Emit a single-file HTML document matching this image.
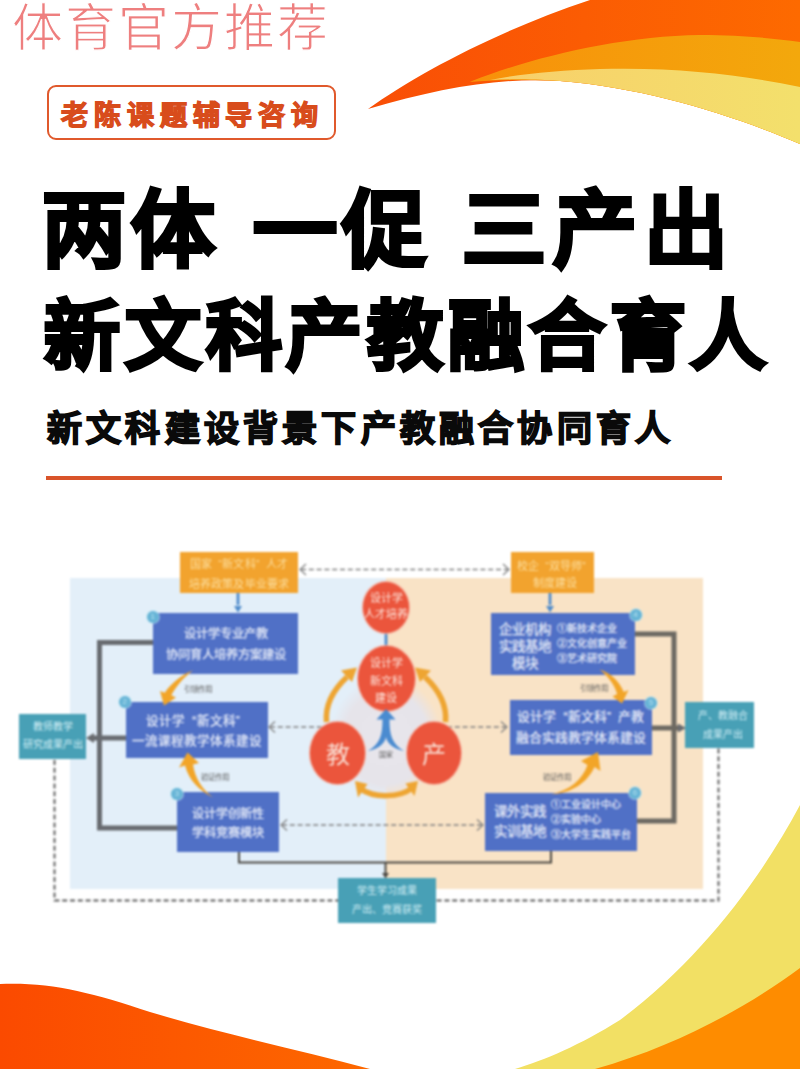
<!DOCTYPE html>
<html lang="zh-CN">
<head>
<meta charset="utf-8">
<style>
html,body{margin:0;padding:0;}
body{width:800px;height:1069px;position:relative;overflow:hidden;background:#fff;font-family:"Liberation Sans",sans-serif;}
.abs{position:absolute;}
.nw{white-space:nowrap;line-height:1;}
#wm{left:12px;top:3px;font-size:51px;color:#ee7f7f;letter-spacing:2px;font-weight:300;-webkit-text-stroke:1.2px #fff;}
#tag{left:47px;top:85px;width:285px;height:51px;border:2px solid #e0592c;border-radius:9px;}
#tagt{left:61px;top:102.5px;font-size:27px;font-weight:700;color:#d84c1c;letter-spacing:5.9px;-webkit-text-stroke:1.3px #d84c1c;}
.t1{font-size:84px;letter-spacing:5px;font-weight:900;color:#000;-webkit-text-stroke:3.5px #000;}
.t2{font-size:76px;font-weight:900;color:#000;-webkit-text-stroke:3.5px #000;letter-spacing:4.8px;}
#sub{left:47px;top:411px;font-size:35px;font-weight:900;color:#0a0a0a;letter-spacing:4.2px;-webkit-text-stroke:1.6px #0a0a0a;}
#rule{left:46px;top:476px;width:676px;height:4px;background:#d9542a;}
#dg{left:0;top:0;width:800px;height:1069px;filter:blur(0.85px);}
.box{position:absolute;display:flex;flex-direction:column;align-items:center;justify-content:center;text-align:center;white-space:nowrap;}
.bl{background:#5070c6;color:#e6ebf8;-webkit-text-stroke:0.25px #e6ebf8;}
.q1{margin-left:0.55em;}.q2{margin-right:0.55em;}
.tl{background:#48a0b6;color:#d2eef5;}
.or{background:#f2a32e;color:#fcdfa0;}
.num{position:absolute;width:12px;height:12px;border-radius:50%;background:#66b4d6;color:#b8e2f0;font-size:8px;line-height:12px;text-align:center;box-shadow:0 0 0 1px rgba(200,235,245,0.6);}
.lbl{position:absolute;font-size:7.5px;color:#5a5a5a;white-space:nowrap;line-height:1;}
.circ{position:absolute;border-radius:50%;background:#eb553c;color:#fde8e0;display:flex;flex-direction:column;align-items:center;justify-content:center;text-align:center;white-space:nowrap;box-shadow:0 0 0 1.2px rgba(246,178,160,0.8);}
</style>
</head>
<body>
<!-- background swooshes -->
<svg class="abs" style="left:0;top:0" width="800" height="1069" viewBox="0 0 800 1069">
  <defs>
    <linearGradient id="gr1" x1="0" x2="1" y1="0" y2="0">
      <stop offset="0" stop-color="#f94e06"/><stop offset="1" stop-color="#fd6a00"/>
    </linearGradient>
    <linearGradient id="go1" x1="0" x2="1" y1="0" y2="0">
      <stop offset="0" stop-color="#f8900a"/><stop offset="1" stop-color="#f3a80c"/>
    </linearGradient>
    <linearGradient id="gy1" x1="0" x2="1" y1="0" y2="0">
      <stop offset="0" stop-color="#f8cf6a"/><stop offset="1" stop-color="#f3e06c"/>
    </linearGradient>
    <linearGradient id="gr2" x1="0" x2="1" y1="0" y2="0">
      <stop offset="0" stop-color="#fb4a00"/><stop offset="1" stop-color="#fd6800"/>
    </linearGradient>
  </defs>
  <path d="M368,109 C420,72 500,30 590,0 L800,0 L800,144 C740,118 650,88 560,81 C500,77 440,88 368,109 Z" fill="url(#gr1)"/>
  <path d="M472,81 C530,58 620,36 700,35 C740,35 770,38 800,42 L800,144 C740,118 650,88 560,81 C520,79 495,80 470,82 Z" fill="url(#go1)"/>
  <path d="M490,80 C520,74 560,70 600,69 C680,67 740,75 800,87 L800,144 C740,118 650,88 560,81 C530,79 510,79 490,80 Z" fill="url(#gy1)"/>
  <path d="M0,984 C50,982 90,992 150,1012 C230,1036 300,1050 370,1069 L0,1069 Z" fill="url(#gr2)"/>
  <path d="M800,805 C760,880 700,960 620,1020 C580,1045 545,1060 515,1069 L800,1069 Z" fill="#f2e064"/>
  <path d="M800,968 C750,1005 680,1045 595,1069 L800,1069 Z" fill="#fe8c00"/>
</svg>

<div id="wm" class="abs nw">体育官方推荐</div>
<div id="tag" class="abs"></div>
<div id="tagt" class="abs nw">老陈课题辅导咨询</div>

<div class="abs nw t1" style="left:42px;top:189px;">两体</div>
<div class="abs nw t1" style="left:253px;top:189px;">一促</div>
<div class="abs nw t1" style="left:462px;top:189px;letter-spacing:7px">三产出</div>
<div class="abs nw t2" style="left:44px;top:299px;">新文科产教融合育人</div>
<div id="sub" class="abs nw">新文科建设背景下产教融合协同育人</div>
<div id="rule" class="abs"></div>

<div id="dg" class="abs">
  <div class="abs" style="left:70px;top:578px;width:316px;height:311px;background:#e3eff9;"></div>
  <div class="abs" style="left:386px;top:578px;width:317px;height:311px;background:#f9e3c6;"></div>
  <svg class="abs" style="left:0;top:0" width="800" height="1069" viewBox="0 0 800 1069">
    <defs><radialGradient id="dsk"><stop offset="0" stop-color="#e8e6ec"/><stop offset="0.75" stop-color="#e6e4ea"/><stop offset="1" stop-color="#e6e4ea" stop-opacity="0"/></radialGradient></defs><ellipse cx="386" cy="738" rx="56" ry="62" fill="url(#dsk)"/>
    <g fill="none" stroke="#808080" stroke-width="1.5" stroke-dasharray="5 2.8">
      <path d="M301,569.5 H508"/>
      <path d="M270,727 H326"/>
      <path d="M447,727 H506"/>
      <path d="M282,825 H482"/>
    </g>
    <g fill="none" stroke="#5c5c5c" stroke-width="1.9" stroke-dasharray="5 2.8">
      <path d="M54.5,760 V900.5 H718.5 V748"/>
    </g>
    <g fill="none" stroke="#808080" stroke-width="1.2">
      <path d="M306,564 L300,569.5 L306,575"/>
      <path d="M503,564 L509,569.5 L503,575"/>
      <path d="M275,721.5 L269,727 L275,732.5"/>
      <path d="M501,721.5 L507,727 L501,732.5"/>
      <path d="M287,819.5 L281,825 L287,830.5"/>
      <path d="M477,819.5 L483,825 L477,830.5"/>
    </g>
    <g fill="none" stroke="#686b70" stroke-width="5">
      <path d="M155,642.5 H99.5 V828 H179"/>
      <path d="M127,738 H93"/>
    </g>
    <g fill="none" stroke="#6c6962" stroke-width="5">
      <path d="M633,634 H674 V821 H635"/>
      <path d="M650,728 H679"/>
    </g>
    <g fill="#696b6f">
      <path d="M86,738 L94,733 L94,743 Z"/>
      <path d="M686,728 L678,723.5 L678,732.5 Z"/>
    </g>
    <g fill="none" stroke="#4b4843" stroke-width="2">
      <path d="M239,851 V862.5 H551 V850"/>
      <path d="M385.5,862.5 V874"/>
    </g>
    <path d="M385.5,878.5 L382,873 L389,873 Z" fill="#4b4843"/>
    <g fill="none" stroke="#4f8bcb" stroke-width="2.8">
      <path d="M238,593 V605"/>
      <path d="M550,593 V605"/>
      <path d="M386,631 V648"/>
    </g>
    <g fill="#4f8bcb">
      <path d="M238,612.5 L234,606 L242,606 Z"/>
      <path d="M550,612.5 L546,606 L554,606 Z"/>
    </g>
  </svg>
  <div class="box or" style="left:180px;top:552px;width:118px;height:41px;font-size:11px;line-height:19.5px;letter-spacing:0.2px;"><div style="transform:translateY(1.5px)">国家<span class="q1">“</span>新文科<span class="q2">”</span>人才<br>培养政策及毕业要求</div></div>
  <div class="box or" style="left:511px;top:552px;width:83px;height:41px;font-size:11px;line-height:17px;"><div style="transform:translate(2px,1.5px)">校企<span class="q1">“</span>双导师<span class="q2">”</span><br>制度建设</div></div>
  <div class="box bl" style="left:153px;top:613px;width:145px;height:61px;font-size:12.3px;line-height:21px;"><div style="transform:translateY(0.5px)">设计学专业产教<br>协同育人培养方案建设</div></div>
  <div class="box bl" style="left:125.5px;top:702px;width:142px;height:56px;font-size:12.6px;line-height:20.5px;"><div style="transform:translateY(1px)">设计学<span class="q1">“</span>新文科<span class="q2">”</span><br>一流课程教学体系建设</div></div>
  <div class="box bl" style="left:177px;top:792px;width:102px;height:60px;font-size:12.2px;line-height:19px;"><div style="transform:translateY(1.5px)">设计学创新性<br>学科竞赛模块</div></div>
  <div class="box bl" style="left:491px;top:612.5px;width:144px;height:62px;flex-direction:row;justify-content:flex-start;">
    <div style="width:58px;font-size:13.5px;line-height:17px;text-align:center;margin-left:5px;padding-top:5px;">企业机构<br>实践基地<br>模块</div>
    <div style="font-size:10px;line-height:15px;text-align:left;margin-left:3px;">①新技术企业<br>②文化创意产业<br>③艺术研究院</div>
  </div>
  <div class="box bl" style="left:509.5px;top:699.5px;width:142.5px;height:55.5px;font-size:12.8px;line-height:21.5px;"><div>设计学<span class="q1">“</span>新文科<span class="q2">”</span>产教<br>融合实践教学体系建设</div></div>
  <div class="box bl" style="left:485px;top:792.5px;width:152px;height:58px;flex-direction:row;justify-content:flex-start;">
    <div style="width:58px;font-size:13.5px;line-height:20px;text-align:center;margin-left:6px;">课外实践<br>实训基地</div>
    <div style="font-size:10px;line-height:15px;text-align:left;margin-left:2px;margin-top:-4px;">①工业设计中心<br>②实验中心<br>③大学生实践平台</div>
  </div>
  <div class="box tl" style="left:19px;top:713.5px;width:67px;height:45px;font-size:10px;line-height:18.5px;"><div>教师教学<br>研究成果产出</div></div>
  <div class="box tl" style="left:685px;top:702px;width:68.5px;height:46px;font-size:10px;line-height:19px;"><div style="transform:translateX(3.5px)">产、教融合<br>成果产出</div></div>
  <div class="box tl" style="left:338px;top:877.5px;width:98px;height:45.5px;font-size:10px;line-height:19px;"><div>学生学习成果<br>产出、竞赛获奖</div></div>
  <div class="num" style="left:146.7px;top:611px;">1</div>
  <div class="num" style="left:118.7px;top:696px;">2</div>
  <div class="num" style="left:171px;top:787.7px;">3</div>
  <div class="num" style="left:629.6px;top:609px;">4</div>
  <div class="num" style="left:645px;top:696.5px;">5</div>
  <div class="num" style="left:629px;top:787px;">6</div>
  <div class="lbl" style="left:184px;top:686px;">引领作用</div>
  <div class="lbl" style="left:201px;top:774px;">验证作用</div>
  <div class="lbl" style="left:580px;top:685px;">引领作用</div>
  <div class="lbl" style="left:543px;top:774px;">验证作用</div>
  <div class="circ" style="left:363px;top:581.5px;width:46px;height:51px;font-size:11px;line-height:16px;"><div style="transform:translateY(-1.5px)">设计学<br>人才培养</div></div>
  <div class="circ" style="left:357.5px;top:645.5px;width:57px;height:65.5px;font-size:11px;line-height:17.5px;"><div style="transform:translateY(3px)">设计学<br>新文科<br>建设</div></div>
  <div class="circ" style="left:310px;top:722px;width:55px;height:62px;font-size:24px;line-height:1;color:#f9ddd2;"><div style="transform:translateY(2px)">教</div></div>
  <div class="circ" style="left:407px;top:722px;width:54px;height:62px;font-size:24px;line-height:1;color:#f9ddd2;"><div style="transform:translateY(2px)">产</div></div>
  <div class="lbl" style="left:379px;top:751px;font-size:7px;">国家</div>
  <svg class="abs" style="left:0;top:0" width="800" height="1069" viewBox="0 0 800 1069">
    <!-- blue person arrow -->
    <path d="M386,709 L395.5,719.5 L389.5,719.5 C389.5,735 392,744 404,751 C393,749 387,743 386,737 C385,743 379,749 368,751 C380,744 382.5,735 382.5,719.5 L376.5,719.5 Z" fill="#4a8bd0"/>
    <!-- orange arcs around center -->
    <g fill="none" stroke="#eea532" stroke-width="5.5">
      <path d="M326.5,722 C325,705 333,690 347,677"/>
      <path d="M445.5,722 C447,705 439,690 425,677"/>
      <path d="M361,789 C373,798 400,798 412,788"/>
    </g>
    <g fill="#eea532">
      <path d="M357,667.5 L341,670.5 L352,682 Z"/>
      <path d="M415,667.5 L431,670.5 L420,682 Z"/>
      <path d="M355,781 L367.5,784 L358,797.5 Z"/>
      <path d="M418,781 L405.5,783.5 L414.5,796 Z"/>
    </g>
    <!-- orange curved arrows between boxes -->
    <g fill="#f2a528">
      <path d="M193,670.5 C183,674 172,682 164.7,692.7 L160,691 L164,705.5 L176,697.5 L171.3,695.3 C177,685 184,677 193,670.5 Z"/>
      <path d="M187.5,752.5 L199,763 L193,764.4 C195,778 202,789 213,797.5 C200,791 189,781 185,765.6 L179,767.5 Z"/>
      <path d="M599.5,669.5 C611,673 619,681 623.8,692 L628.5,690 L622,703.5 L612.5,696.5 L617.2,694 C614,684 608,676 599.5,669.5 Z"/>
      <path d="M551,794.5 C572,793 587,783 594.5,767 L600.5,771 L598,752 L581,761 L587.5,765 C582,780 570,790 551,794.5 Z"/>
    </g>
  </svg>
</div>
</body>
</html>
